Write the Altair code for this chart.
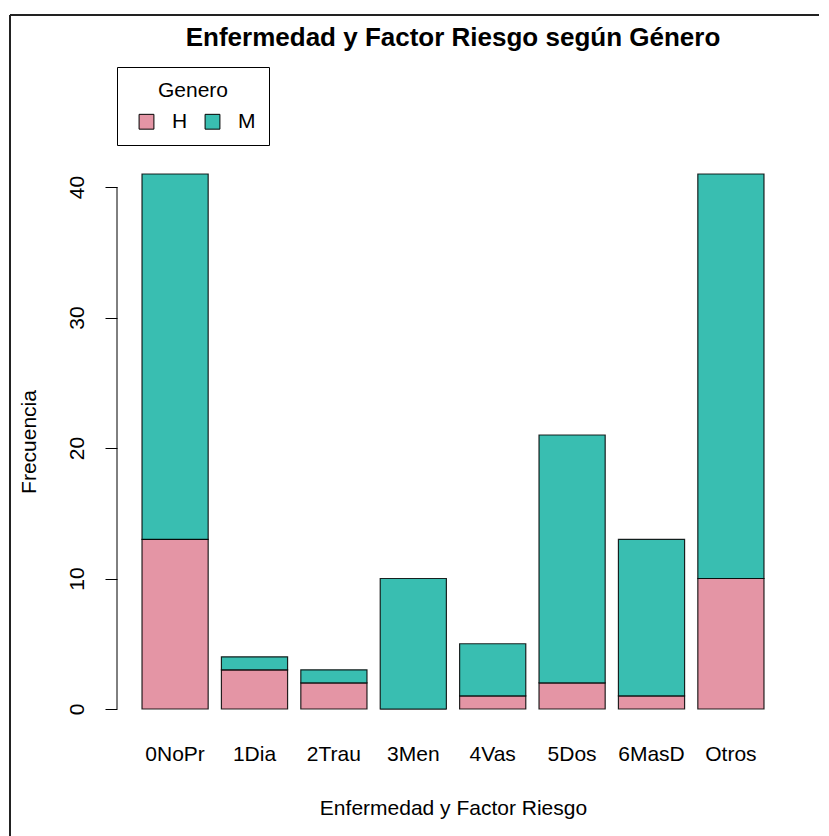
import altair as alt
import pandas as pd

categories = ["0NoPr", "1Dia", "2Trau", "3Men", "4Vas", "5Dos", "6MasD", "Otros"]
h_values = [13, 3, 2, 0, 1, 2, 1, 10]
m_values = [28, 1, 1, 10, 4, 19, 12, 31]
genders = ["H", "M"]
colors = ["#E495A5", "#39BEB1"]
y_ticks = [0, 10, 20, 30, 40]

rows = []
for c, h, m in zip(categories, h_values, m_values):
    rows.append({"cat": c, "Genero": "H", "n": h, "ord": 0})
    rows.append({"cat": c, "Genero": "M", "n": m, "ord": 1})
df = pd.DataFrame(rows)

FONT = "Liberation Sans"
FS = 21

bars = alt.Chart(df).mark_bar(stroke="black", strokeWidth=1.2, strokeOpacity=0.85).encode(
    x=alt.X(
        "cat:N",
        sort=categories,
        scale=alt.Scale(paddingInner=0.1667, paddingOuter=0.315),
        axis=alt.Axis(
            title="Enfermedad y Factor Riesgo",
            labelAngle=0,
            ticks=False,
            domain=False,
            labelPadding=34,
            titlePadding=33,
            labelFontSize=FS,
            titleFontSize=FS,
            labelColor="black",
            titleColor="black",
            titleFontWeight="normal",
            labelFont=FONT,
            titleFont=FONT,
        ),
    ),
    y=alt.Y(
        "n:Q",
        stack="zero",
        scale=alt.Scale(domain=[0, 41], nice=False, zero=True),
        axis=alt.Axis(
            title="Frecuencia",
            values=y_ticks,
            domain=False,
            grid=False,
            tickSize=12,
            tickColor="black",
            labelAngle=270,
            labelAlign="center",
            labelBaseline="bottom",
            labelPadding=18,
            labelFontSize=FS,
            labelColor="black",
            labelFont=FONT,
            titleFont=FONT,
            titleFontSize=FS,
            titleFontWeight="normal",
            titleColor="black",
            titlePadding=27,
        ),
    ),
    color=alt.Color(
        "Genero:N",
        scale=alt.Scale(domain=genders, range=colors),
        legend=alt.Legend(
            title="Genero",
            orient="none",
            legendX=0,
            legendY=-107,
            direction="horizontal",
            titleAnchor="middle",
            titleFontSize=FS,
            titleFontWeight="normal",
            titleFont=FONT,
            titleColor="black",
            titlePadding=10,
            labelFontSize=FS,
            labelFont=FONT,
            labelColor="black",
            labelOffset=15,
            symbolType="square",
            symbolSize=220,
            symbolStrokeColor="black",
            symbolStrokeWidth=1,
            symbolOpacity=1,
            symbolOffset=6,
            columnPadding=8,
            strokeColor="black",
            fillColor="white",
            padding=13,
        ),
    ),
    order=alt.Order("ord:Q"),
)

one = pd.DataFrame({"a": [0]})
axis_line = alt.Chart(one).mark_rule(color="black", strokeWidth=1).encode(
    x=alt.value(0), y=alt.datum(0), y2=alt.datum(40)
)
frame_v = alt.Chart(one).mark_rule(color="#222222", strokeWidth=2).encode(
    x=alt.value(-107), y=alt.value(-159), y2=alt.value(700)
)
frame_h = alt.Chart(one).mark_rule(color="#222222", strokeWidth=2).encode(
    x=alt.value(-107), x2=alt.value(720), y=alt.value(-159)
)

chart = alt.layer(frame_v, frame_h, bars, axis_line).properties(
    width=672,
    height=535,
    autosize=alt.AutoSizeParams(type="none"),
    padding={"left": 109, "top": 166, "right": 30, "bottom": 140},
    title=alt.TitleParams(
        "Enfermedad y Factor Riesgo según Género",
        fontSize=26,
        fontWeight="bold",
        font=FONT,
        color="black",
        anchor="middle",
        offset=-37,
    ),
).configure_view(stroke=None)

chart.save("out.html", embed_options={"renderer": "svg", "actions": False})
